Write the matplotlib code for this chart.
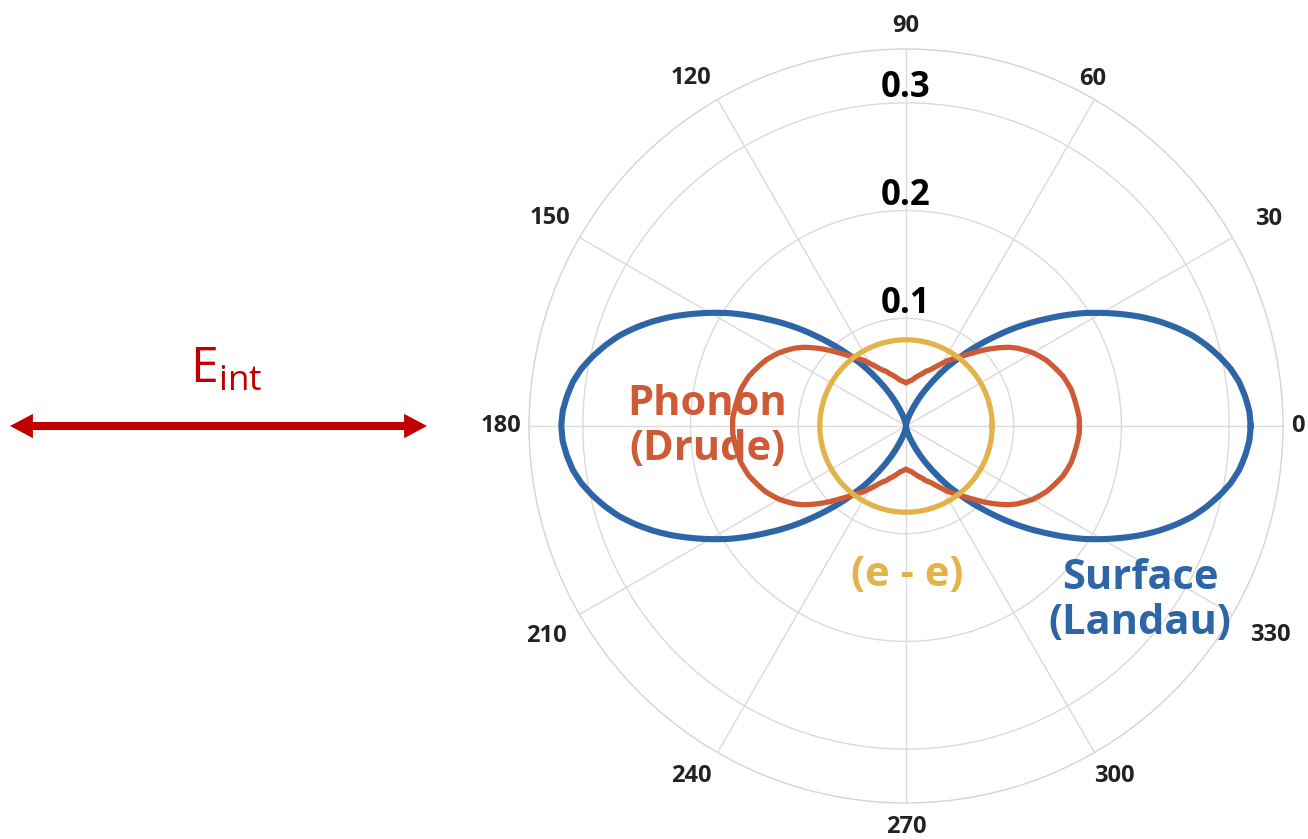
import numpy as np
import matplotlib
matplotlib.use("Agg")
import matplotlib.pyplot as plt
from matplotlib.patches import FancyArrowPatch

plt.rcParams['font.family'] = ['Open Sans', 'DejaVu Sans']
plt.rcParams['mathtext.default'] = 'regular'
# keep every sample when the polar transform interpolates the curves
plt.rcParams['path.simplify'] = False

# Angles of one quadrant (degrees); the patterns are mirror-symmetric
quad_deg = [0, 2.5, 5, 7.5, 10, 12.5, 15, 17.5, 20, 22.5, 25, 27.5, 30, 32.5, 35,
            37.5, 40, 42.5, 45, 47.5, 50, 52.5, 55, 57.5, 60, 62.5, 65, 67.5, 70,
            72.5, 75, 77.5, 80, 82.5, 85, 87.5, 90]

# Surface (Landau) damping rate
surface_r = [0.320, 0.319, 0.316, 0.312, 0.306, 0.298, 0.289, 0.279, 0.267, 0.254,
             0.240, 0.225, 0.210, 0.195, 0.179, 0.163, 0.148, 0.133, 0.118, 0.104,
             0.091, 0.078, 0.067, 0.055, 0.045, 0.036, 0.028, 0.021, 0.015, 0.011,
             0.007, 0.005, 0.003, 0.002, 0.001, 0.000, 0.000]
# Phonon (Drude) damping rate
phonon_r = [0.161, 0.161, 0.160, 0.159, 0.158, 0.157, 0.155, 0.153, 0.150, 0.147,
            0.144, 0.140, 0.136, 0.131, 0.126, 0.120, 0.113, 0.106, 0.099, 0.092,
            0.086, 0.081, 0.076, 0.072, 0.067, 0.063, 0.059, 0.056, 0.054, 0.051,
            0.049, 0.047, 0.045, 0.043, 0.042, 0.041, 0.040]
# Electron-electron damping rate (isotropic)
ee_r = [0.080] * len(quad_deg)

r_ticks = [0.1, 0.2, 0.3]
r_tick_labels = ["0.1", "0.2", "0.3"]
theta_ticks = [0, 30, 60, 90, 120, 150, 180, 210, 240, 270, 300, 330]
theta_tick_labels = [str(t) for t in theta_ticks]
r_max = 0.35

BLUE = "#2e65a6"
RED = "#cf5a36"
YELLOW = "#e2b34a"
ARROW_RED = "#c00000"


def full_circle(deg, r):
    deg = np.asarray(deg, float)
    r = np.asarray(r, float)
    th = np.concatenate([deg, 180 - deg[::-1], 180 + deg, 360 - deg[::-1]])
    rr = np.concatenate([r, r[::-1], r, r[::-1]])
    return np.deg2rad(th), rr


W, H = 1308, 839
fig = plt.figure(figsize=(W / 100, H / 100), dpi=100)

cx, cy, R = 906, 426, 377
ax = fig.add_axes([(cx - R) / W, (H - cy - R) / H, 2 * R / W, 2 * R / H],
                  projection='polar')
ax.set_ylim(0, r_max)
ax.set_thetagrids(theta_ticks, [""] * len(theta_ticks))
ax.set_rgrids(r_ticks, labels=[""] * len(r_ticks))
ax.grid(True, color='#dadada', linewidth=1.0)
ax.spines['polar'].set_color('#d4d4d4')
ax.spines['polar'].set_linewidth(1.0)

# Angle labels just outside the rim (label angle in degrees, radius in data units)
label_place = {0: (0.0, 0.364), 30: (29.7, 0.388), 60: (61.7, 0.366),
               90: (90.0, 0.371), 120: (121.7, 0.380), 150: (149.8, 0.383),
               180: (180.0, 0.376), 210: (210.3, 0.387), 240: (238.4, 0.381),
               270: (270.0, 0.372), 300: (300.8, 0.378), 330: (330.1, 0.390)}
for t, lab in zip(theta_ticks, theta_tick_labels):
    ang, rad = label_place[t]
    ax.text(np.deg2rad(ang), rad, lab, ha='center', va='center', fontsize=17,
            fontweight='bold', color='#222222', clip_on=False)

for r, lab in zip(r_ticks, r_tick_labels):
    ax.annotate(lab, xy=(np.pi / 2, r), xytext=(0, 4), textcoords='offset points',
                ha='center', va='baseline', fontsize=25, fontweight='bold',
                color='black')

for data, color, lw in [(surface_r, BLUE, 4.4), (phonon_r, RED, 3.8), (ee_r, YELLOW, 3.8)]:
    th, rr = full_circle(quad_deg, data)
    line, = ax.plot(th, rr, color=color, linewidth=lw, solid_joinstyle='round')
    # follow the polar grid smoothly between samples
    line.get_path()._interpolation_steps = 16
    line.set_data(th, rr)


# Curve labels (figure pixel coordinates)
def fig_text(x, y, s, color, size, **kw):
    fig.text(x / W, 1 - y / H, s, color=color, fontsize=size, fontweight='bold',
             ha='center', va='center', multialignment='center', **kw)


fig_text(707, 427, "Phonon\n(Drude)", RED, 30, linespacing=1.12)
fig_text(907, 576, "(e - e)", YELLOW, 30)
fig_text(1140, 601, "Surface\n(Landau)", BLUE, 30, linespacing=1.12)

# Field direction
fig.text(190 / W, 1 - 383 / H, r"E$_{int}$", color=ARROW_RED,
         fontsize=36, ha='left', va='baseline')
mid = (218 / W, 1 - 426 / H)
for end_x in (10, 427):
    arrow = FancyArrowPatch(mid, (end_x / W, 1 - 426 / H),
                            transform=fig.transFigure, shrinkA=0, shrinkB=0,
                            arrowstyle="simple,head_length=16.5,head_width=17.5,tail_width=5.8",
                            mutation_scale=1, facecolor=ARROW_RED, edgecolor='none',
                            linewidth=0)
    fig.patches.append(arrow)

fig.savefig("out.png", dpi=100, facecolor='white')
